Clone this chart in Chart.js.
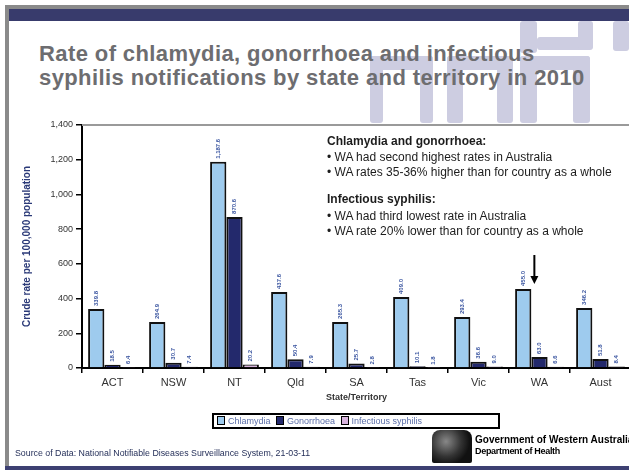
<!DOCTYPE html>
<html>
<head>
<meta charset="utf-8">
<script src="https://cdn.jsdelivr.net/npm/chart.js@4.4.1/dist/chart.umd.min.js"></script>
<style>
  html, body { margin: 0; padding: 0; overflow: hidden; background: #fff; }
  body { width: 629px; height: 470px; position: relative; font-family: "Liberation Sans", Arial, sans-serif; }
  .abs { position: absolute; }
  .wm { position: absolute; background: #cdcde1; border-radius: 3px; }
  #title { left: 39px; top: 42px; font-size: 22px; line-height: 24px; letter-spacing: 0.4px; font-weight: bold; color: #6d6d70; white-space: nowrap; }
  .note { position: absolute; left: 327px; font-size: 12px; line-height: 13px; color: #1c1c1c; white-space: nowrap; }
  #legend { left: 212px; top: 413px; width: 284px; height: 12px; border: 2px solid #000; font-size: 9px; line-height: 12px; color: #5b6ea8; white-space: nowrap; }
  #legend span.box { display: inline-block; width: 6px; height: 7px; border: 1px solid #000; margin: 0 3px 0 3px; vertical-align: -1px; }
  #chart { position: absolute; left: 0; top: 0; }
</style>
</head>
<body>
<!-- slide frame -->
<div class="abs" style="left:5px;top:5px;width:624px;height:4px;background:#8a8a8a"></div>
<div class="abs" style="left:5px;top:5px;width:4px;height:465px;background:#8a8a8a"></div>
<div class="abs" style="left:9px;top:9px;width:620px;height:12px;background:#383b6c"></div>
<div class="abs" style="left:5px;top:466px;width:624px;height:4px;background:#3d4072"></div>

<!-- faded logo letters behind the title -->
<div class="wm" style="left:520px;top:21px;width:17px;height:32px"></div>
<div class="wm" style="left:537px;top:37px;width:46px;height:13px"></div>
<div class="wm" style="left:578px;top:21px;width:15px;height:29px"></div>
<div class="wm" style="left:613px;top:21px;width:16px;height:30px"></div>
<div class="wm" style="left:370px;top:56px;width:63px;height:14px"></div>
<div class="wm" style="left:370px;top:56px;width:13px;height:67px"></div>
<div class="wm" style="left:420px;top:56px;width:13px;height:67px"></div>
<div class="wm" style="left:447px;top:56px;width:66px;height:14px"></div>
<div class="wm" style="left:447px;top:56px;width:16px;height:67px"></div>
<div class="wm" style="left:497px;top:56px;width:16px;height:67px"></div>
<div class="wm" style="left:520px;top:56px;width:70px;height:14px"></div>
<div class="wm" style="left:520px;top:56px;width:17px;height:67px"></div>
<div class="wm" style="left:573px;top:56px;width:17px;height:67px"></div>

<div id="title" class="abs">Rate of chlamydia, gonorrhoea and infectious<br>syphilis notifications by state and territory in 2010</div>

<canvas id="chart" width="640" height="470"></canvas>

<div class="note" style="top:135px;font-weight:bold">Chlamydia and gonorrhoea:</div>
<div class="note" style="top:151px">• WA had second highest rates in Australia</div>
<div class="note" style="top:166px">• WA rates 35-36% higher than for country as a whole</div>
<div class="note" style="top:193px;font-weight:bold">Infectious syphilis:</div>
<div class="note" style="top:210px">• WA had third lowest rate in Australia</div>
<div class="note" style="top:225px">• WA rate 20% lower than for country as a whole</div>

<div id="legend" class="abs"><span class="box" style="background:#9ecbee"></span>Chlamydia <span class="box" style="background:#23296c"></span>Gonorrhoea <span class="box" style="background:#d8b4de"></span>Infectious syphilis</div>

<div class="abs" style="left:15px;top:448px;font-size:8.8px;color:#1f2a55;white-space:nowrap">Source of Data: National Notifiable Diseases Surveillance System, 21-03-11</div>

<!-- department logo -->
<div class="abs" style="left:432px;top:430px;width:40px;height:33px;background:radial-gradient(circle at 35% 35%, #888 0, #333 45%, #111 70%);border-radius:8px 8px 2px 2px"></div>
<div class="abs" style="left:475px;top:434px;font-size:10px;font-weight:bold;color:#000;white-space:nowrap">Government of Western Australia</div>
<div class="abs" style="left:475px;top:446px;font-size:9px;font-weight:bold;color:#000;white-space:nowrap;letter-spacing:-0.3px">Department of Health</div>

<script>
var states = ['ACT', 'NSW', 'NT', 'Qld', 'SA', 'Tas', 'Vic', 'WA', 'Aust'];
var chlamydia = [339.8, 264.9, 1187.6, 437.6, 265.3, 409.0, 293.4, 455.0, 346.2];
var gonorrhoea = [18.5, 30.7, 870.6, 50.4, 25.7, 10.1, 36.6, 63.0, 51.8];
var syphilis = [6.4, 7.4, 20.2, 7.9, 2.8, 1.8, 9.0, 6.6, 8.4];
var yTicks = [0, 200, 400, 600, 800, 1000, 1200, 1400];

function fmt(v) {
  return v.toLocaleString('en-US', { minimumFractionDigits: 1, maximumFractionDigits: 1 });
}

// rotated value labels above each bar, arrow over WA, grey top edge of plot
var extras = {
  id: 'extras',
  afterDatasetsDraw: function(chart) {
    var ctx = chart.ctx;
    var area = chart.chartArea;
    ctx.save();
    ctx.strokeStyle = '#9a9a9a';
    ctx.lineWidth = 2;
    ctx.beginPath();
    ctx.moveTo(area.left, area.top);
    ctx.lineTo(area.right, area.top);
    ctx.stroke();

    ctx.font = 'bold 6px "Liberation Sans", Arial';
    ctx.fillStyle = '#3a55a0';
    ctx.textAlign = 'left';
    ctx.textBaseline = 'middle';
    chart.data.datasets.forEach(function(ds, i) {
      chart.getDatasetMeta(i).data.forEach(function(bar, j) {
        ctx.save();
        ctx.translate(bar.x, bar.y - 3);
        ctx.rotate(-Math.PI / 2);
        ctx.fillText(fmt(ds.data[j]), 0, 0);
        ctx.restore();
      });
    });

    var wa = chart.getDatasetMeta(0).data[states.indexOf('WA')];
    var ax = wa.x + wa.width / 2 + 3;
    ctx.strokeStyle = '#000';
    ctx.fillStyle = '#000';
    ctx.lineWidth = 2;
    ctx.beginPath();
    ctx.moveTo(ax, wa.y - 34);
    ctx.lineTo(ax, wa.y - 12);
    ctx.stroke();
    ctx.beginPath();
    ctx.moveTo(ax - 4, wa.y - 13);
    ctx.lineTo(ax + 4, wa.y - 13);
    ctx.lineTo(ax, wa.y - 5);
    ctx.closePath();
    ctx.fill();
    ctx.restore();
  }
};

new Chart(document.getElementById('chart').getContext('2d'), {
  type: 'bar',
  data: {
    labels: states,
    datasets: [
      { label: 'Chlamydia', data: chlamydia, backgroundColor: '#9ecbee' },
      { label: 'Gonorrhoea', data: gonorrhoea, backgroundColor: '#23296c' },
      { label: 'Infectious syphilis', data: syphilis, backgroundColor: '#d8b4de' }
    ]
  },
  options: {
    responsive: false,
    animation: false,
    layout: { padding: { top: 125, left: 0, right: 9, bottom: 62 } },
    datasets: {
      bar: { borderColor: '#111', borderWidth: 2, categoryPercentage: 0.8, barPercentage: 1.0 }
    },
    plugins: {
      legend: { display: false },
      tooltip: { enabled: false }
    },
    scales: {
      x: {
        afterFit: function(scale) { scale.height = 40; },
        grid: { display: true, drawOnChartArea: false, tickLength: 5, color: '#000', lineWidth: 1.5 },
        border: { color: '#000', width: 2 },
        ticks: { color: '#333', padding: 3, font: { family: '"Liberation Sans", Arial', size: 11 } },
        title: {
          display: true, text: 'State/Territory', color: '#333',
          font: { family: '"Liberation Sans", Arial', size: 9, weight: 'bold' },
          padding: { top: 0, bottom: 5 }
        }
      },
      y: {
        min: 0,
        max: 1400,
        afterFit: function(scale) { scale.width = 82; },
        afterBuildTicks: function(scale) { scale.ticks = yTicks.map(function(v) { return { value: v }; }); },
        grid: { display: true, drawOnChartArea: false, tickLength: 6, color: '#000', lineWidth: 1.5 },
        border: { color: '#000', width: 2 },
        ticks: {
          color: '#333', padding: 3,
          font: { family: '"Liberation Sans", Arial', size: 9 },
          callback: function(v) { return v.toLocaleString('en-US'); }
        },
        title: {
          display: true, text: 'Crude rate per 100,000 population', color: '#2b3a78',
          font: { family: '"Liberation Sans", Arial', size: 10, weight: 'bold' },
          padding: { top: 21, bottom: 0 }
        }
      }
    }
  },
  plugins: [extras]
});
</script>
</body>
</html>
